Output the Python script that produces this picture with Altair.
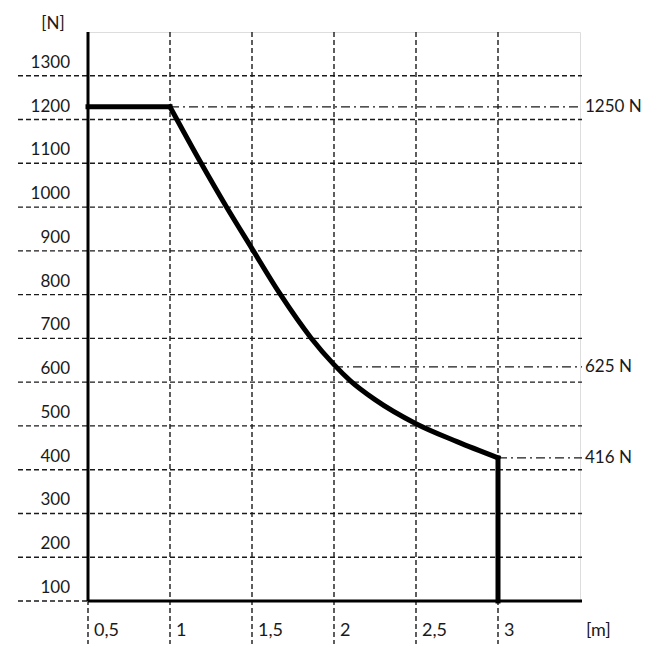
import altair as alt
import pandas as pd

# Data
flat_x = [0.5, 1.0]
flat_y = [1229, 1229]
curve_x = [1.0, 1.19, 1.34, 1.5, 1.67, 1.86, 2.0, 2.1, 2.25, 2.5, 2.75, 3.0]
curve_y = [1229, 1100, 1003, 905, 802, 701, 640, 603, 560, 505, 464, 427]
drop_x = [3.0, 3.0]
drop_y = [427, 100]

y_ticks = [100, 200, 300, 400, 500, 600, 700, 800, 900, 1000, 1100, 1200, 1300]
x_ticks = [0.5, 1.0, 1.5, 2.0, 2.5, 3.0]
x_tick_labels = ["0,5", "1", "1,5", "2", "2,5", "3"]

ref_x = [1.0, 2.0, 3.0]
ref_y = [1229, 635, 427]
ref_labels = ["1250 N", "625 N", "416 N"]

FONT = "Lato"
INK = "#1a1a1a"
W, H = 492, 569

xs = alt.Scale(domain=[0.5, 3.5], nice=False, zero=False)
ys = alt.Scale(domain=[100, 1400], nice=False, zero=False)

yt_df = pd.DataFrame({"y": y_ticks, "lab": [str(v) for v in y_ticks]})
xt_df = pd.DataFrame({"x": x_ticks, "lab": x_tick_labels})
ref_df = pd.DataFrame({"x": ref_x, "y": ref_y, "lab": ref_labels})

hgrid = alt.Chart(yt_df).mark_rule(strokeDash=[5, 3], strokeWidth=1.4, color=INK).encode(
    y=alt.Y("y:Q", scale=ys, axis=None),
    x=alt.value(-70), x2=alt.value(W + 2),
)
vgrid = alt.Chart(xt_df).mark_rule(strokeDash=[5, 3], strokeWidth=1.4, color=INK).encode(
    x=alt.X("x:Q", scale=xs, axis=None),
    y=alt.value(0), y2=alt.value(612),
)
ylabels = alt.Chart(yt_df).mark_text(
    align="right", baseline="middle", dx=-18, dy=-13, font=FONT, fontSize=17, color=INK
).encode(y=alt.Y("y:Q", scale=ys, axis=None), x=alt.value(0), text="lab:N")
xlabels = alt.Chart(xt_df).mark_text(
    align="left", baseline="middle", dx=6, font=FONT, fontSize=18, color=INK
).encode(x=alt.X("x:Q", scale=xs, axis=None), y=alt.value(599), text="lab:N")

yaxis_line = alt.Chart(pd.DataFrame({"x": [0.5]})).mark_rule(strokeWidth=3, color="black").encode(
    x=alt.X("x:Q", scale=xs, axis=None), y=alt.value(0), y2=alt.value(H)
)
xaxis_line = alt.Chart(pd.DataFrame({"y": [100]})).mark_rule(strokeWidth=3, color="black").encode(
    y=alt.Y("y:Q", scale=ys, axis=None), x=alt.value(0), x2=alt.value(W + 2)
)

ref_lines = alt.Chart(ref_df).mark_rule(strokeDash=[9, 4, 2, 4], strokeWidth=1.3, color=INK).encode(
    x=alt.X("x:Q", scale=xs, axis=None), x2=alt.value(W + 2), y=alt.Y("y:Q", scale=ys, axis=None)
)
ref_text = alt.Chart(ref_df).mark_text(
    align="left", baseline="middle", font=FONT, fontSize=17, color=INK
).encode(x=alt.value(W + 5), y=alt.Y("y:Q", scale=ys, axis=None), text="lab:N")


def seg(xv, yv, interp):
    df = pd.DataFrame({"x": xv, "y": yv, "o": range(len(xv))})
    return alt.Chart(df).mark_line(
        strokeWidth=5, color="black", interpolate=interp, strokeCap="square"
    ).encode(
        x=alt.X("x:Q", scale=xs, axis=None),
        y=alt.Y("y:Q", scale=ys, axis=None),
        order="o:Q",
    )


flat = seg(flat_x, flat_y, "linear")
curve = seg(curve_x, curve_y, "monotone")
drop = seg(drop_x, drop_y, "linear")

unit_n = alt.Chart(pd.DataFrame({"t": ["[N]"]})).mark_text(
    align="center", baseline="middle", font=FONT, fontSize=17, color=INK
).encode(x=alt.value(-35), y=alt.value(-8), text="t:N")
unit_m = alt.Chart(pd.DataFrame({"t": ["[m]"]})).mark_text(
    align="left", baseline="middle", font=FONT, fontSize=18, color=INK
).encode(x=alt.value(498), y=alt.value(599), text="t:N")

chart = alt.layer(
    hgrid, vgrid, ref_lines, yaxis_line, xaxis_line, flat, curve, drop,
    ylabels, xlabels, ref_text, unit_n, unit_m,
).properties(
    width=W, height=H,
    autosize=alt.AutoSizeParams(type="none"),
    padding={"left": 80, "top": 24, "right": 75, "bottom": 50},
).configure_view(stroke=None).configure(background="white")

chart.save("out.html", embed_options={"renderer": "svg", "actions": False})
